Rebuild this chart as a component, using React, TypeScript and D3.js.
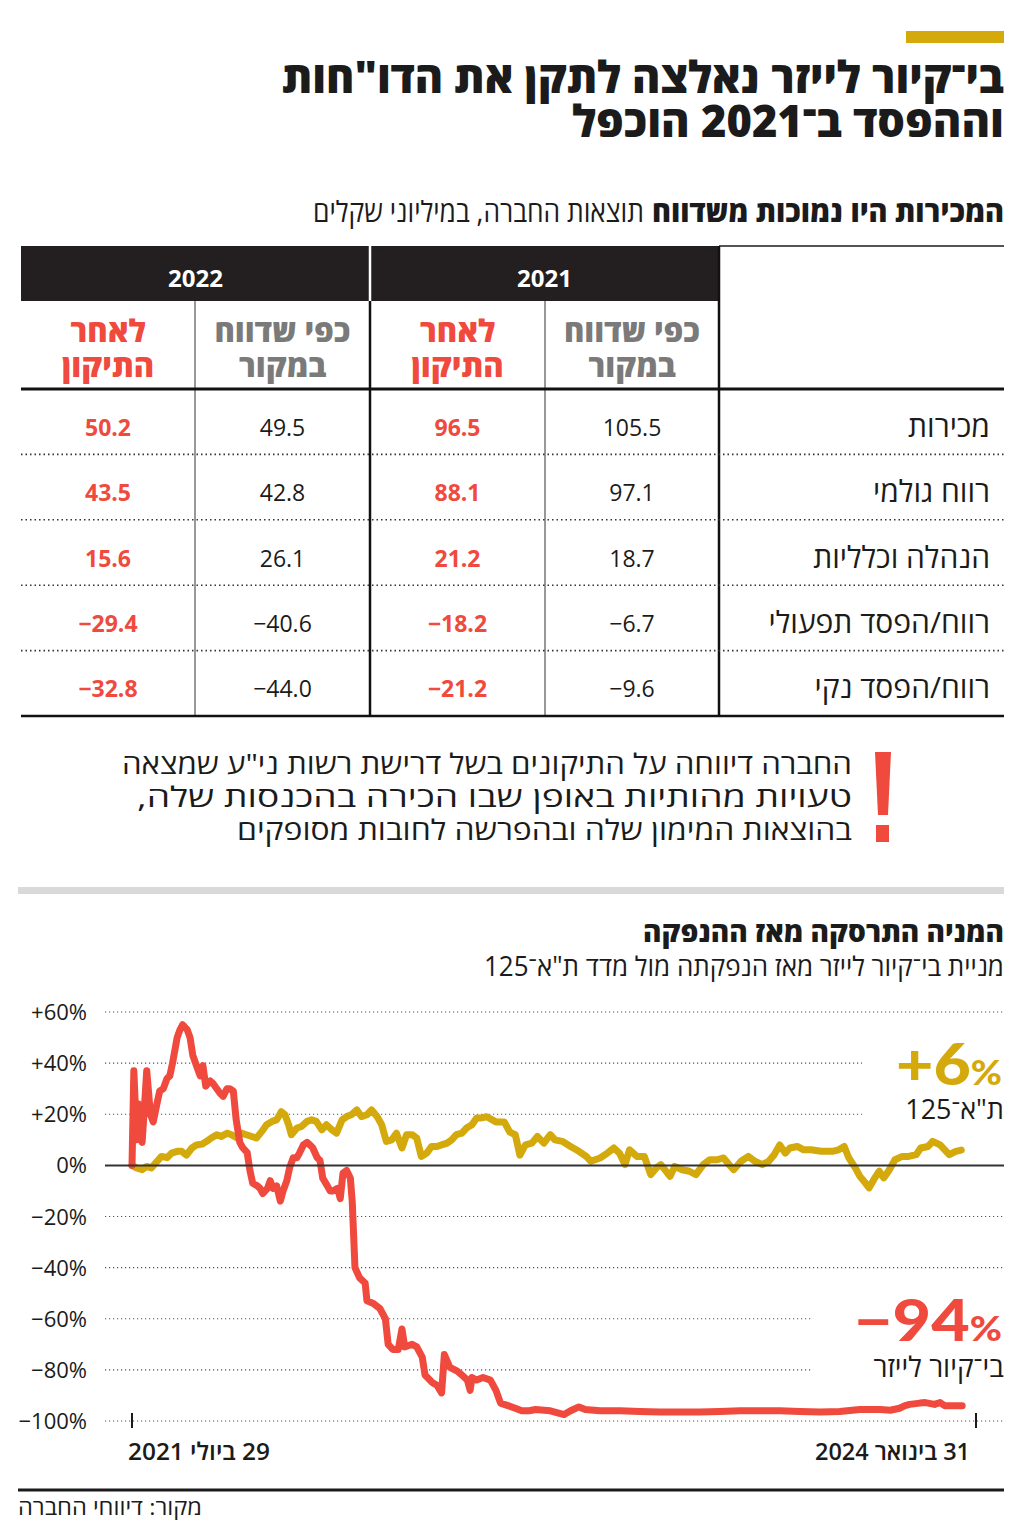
import React from "react";
import * as d3 from "d3";

// ---------- DATA ----------
const titleLines = ['בי־קיור לייזר נאלצה לתקן את הדו"חות', "וההפסד ב־2021 הוכפל"];
const tableTitleBold = "המכירות היו נמוכות משדווח";
const tableTitleRegular = "תוצאות החברה, במיליוני שקלים";
const years = ["2021", "2022"];
const reportedLabel = ["כפי שדווח", "במקור"];
const correctedLabel = ["לאחר", "התיקון"];
const rowLabels = ["מכירות", "רווח גולמי", "הנהלה וכלליות", "רווח/הפסד תפעולי", "רווח/הפסד נקי"];
const reported2021 = [105.5, 97.1, 18.7, -6.7, -9.6];
const corrected2021 = [96.5, 88.1, 21.2, -18.2, -21.2];
const reported2022 = [49.5, 42.8, 26.1, -40.6, -44.0];
const corrected2022 = [50.2, 43.5, 15.6, -29.4, -32.8];
const noteLines = [
  'החברה דיווחה על התיקונים בשל דרישת רשות ני"ע שמצאה',
  "טעויות מהותיות באופן שבו הכירה בהכנסות שלה,",
  "בהוצאות המימון שלה ובהפרשה לחובות מסופקים",
];
const chartTitle = "המניה התרסקה מאז ההנפקה";
const chartSubtitle = 'מניית בי־קיור לייזר מאז הנפקתה מול מדד ת"א־125';
const yTicks = [60, 40, 20, 0, -20, -40, -60, -80, -100];
const xTickLabels = ["29 ביולי 2021", "31 בינואר 2024"];
const startDate = new Date(2021, 6, 29);
const endDate = new Date(2024, 0, 31);
const ta125Name = 'ת"א־125';
const bcureName = "בי־קיור לייזר";
const ta125Final = "+6";
const bcureFinal = "−94";
const source = "מקור: דיווחי החברה";

// [days since IPO, % change]
const bcureSeries: [number, number][] = [
  [0, 0], [2, 37], [4, 20], [5, 10], [7, 24], [9, 12], [11, 9], [16, 37], [20, 20], [23, 17], [27, 24], [30, 29],
  [34, 30], [38, 34], [41, 35], [44, 40], [49, 50], [52, 53], [55, 55], [60, 53], [63, 50], [66, 43],
  [71, 38], [74, 35], [77, 39], [80, 31], [85, 33], [88, 32], [92, 30], [96, 28], [99, 27], [103, 30],
  [106, 30], [110, 29], [113, 18], [117, 9], [120, 7], [125, 5], [128, -2], [131, -7], [136, -8],
  [139, -9], [142, -11], [147, -9], [150, -6], [153, -9], [157, -8], [161, -14], [164, -10], [168, -6],
  [171, -1], [175, 3], [179, 3], [182, 5], [186, 8], [190, 9], [193, 8], [196, 7], [201, 3], [204, 2],
  [207, -5], [212, -8], [215, -10], [218, -10], [223, -9], [226, -13], [229, -3], [233, -2], [237, -5],
  [239, -14], [242, -40], [247, -44], [253, -46], [255, -53], [262, -54], [269, -56], [275, -60],
  [278, -70], [283, -72], [289, -72], [293, -64], [296, -71], [304, -70], [309, -71], [315, -75],
  [318, -82], [326, -85], [331, -86], [336, -89], [339, -74], [345, -79], [353, -80.5], [358, -82],
  [364, -84], [367, -88], [369, -83], [374, -84], [381, -83], [389, -84], [395, -88], [400, -93],
  [408, -94], [416, -95], [423, -96], [431, -96], [438, -95.5], [454, -96], [469, -97.5], [476, -96],
  [485, -94.5], [492, -95.5], [508, -96], [530, -96], [551, -96.3], [573, -96.5], [595, -96.5],
  [616, -96.5], [638, -96.3], [660, -96], [682, -96], [703, -96], [725, -96.3], [747, -96.5],
  [768, -96.3], [790, -95.5], [812, -95.5], [823, -95.8], [833, -95], [839, -94], [844, -93.5],
  [855, -93], [861, -92.8], [871, -93.5], [877, -92.8], [882, -94], [893, -94], [901, -94],
];

const ta125Series: [number, number][] = [
  [0, 0], [5, -1], [11, -1.7], [16, -0.4], [21, -1], [27, 1.5], [32, 3.5], [38, 3], [43, 4.8], [49, 5.5],
  [54, 5.5], [59, 4], [65, 6.8], [70, 8], [76, 8.3], [81, 9.4], [86, 10.7], [92, 12], [97, 11.3],
  [103, 12.6], [108, 12], [114, 10.7], [119, 12.6], [124, 12], [130, 11.3], [135, 10.7], [141, 13.3],
  [146, 15.9], [152, 17.2], [157, 17.8], [162, 21], [166, 19.8], [170, 15.9], [173, 12], [179, 14.6],
  [184, 15.2], [190, 17.2], [195, 17.8], [200, 17.2], [206, 13.9], [211, 15.9], [217, 13.9], [222, 12.6],
  [228, 17.8], [233, 19.1], [238, 19.8], [244, 21.7], [249, 19.1], [255, 19.8], [260, 21.7], [266, 19.1],
  [271, 15.9], [276, 9.4], [282, 10], [287, 12.6], [293, 6.8], [298, 12], [304, 12], [309, 10.7],
  [314, 3.5], [320, 4.8], [325, 7.4], [331, 7.4], [336, 8], [342, 8.7], [347, 10], [352, 12], [358, 12.6],
  [363, 14.6], [369, 15.9], [374, 18.5], [378, 18.5], [385, 19], [395, 17], [404, 17], [410, 13],
  [416, 12], [421, 4], [427, 8], [434, 8.7], [440, 11.3], [447, 8.7], [454, 12], [459, 10], [467, 9.4],
  [476, 7.4], [485, 5.5], [493, 3.5], [498, 1.6], [508, 2.9], [516, 4.8], [523, 6.8], [529, 4.8],
  [535, 0.3], [540, 6.1], [548, 3.5], [556, 3.5], [563, -3.6], [569, -1], [574, 0.3], [584, -4.3],
  [589, -0.4], [597, -1.7], [605, -2.3], [612, -3.6], [620, 0.3], [627, 2.2], [635, 2.2], [642, 2.9],
  [648, 0.3], [653, -1.7], [661, 1.6], [669, 3.5], [676, 1.6], [684, 0.3], [691, 1.6], [697, 4.2],
  [703, 8], [709, 4.8], [714, 6.8], [722, 7.4], [729, 6.1], [737, 6.1], [748, 5.5], [760, 5.5],
  [767, 6.1], [773, 7.4], [778, 2.9], [785, -1], [790, -4.3], [796, -6.9], [800, -8.8], [805, -5.6],
  [811, -2.3], [816, -4.9], [822, -1.7], [828, 2.2], [836, 3.5], [843, 3.5], [851, 4.2], [856, 6.8],
  [864, 7.4], [869, 9.4], [877, 8], [887, 4.2], [894, 5.5], [900, 6],
];

// ---------- STYLE ----------
const FONT = "'Open Sans','Liberation Sans','DejaVu Sans',sans-serif";
const RED = "#ef4a3d";
const GOLD = "#d4a90c";
const INK = "#1b1b1b";
const GRAY = "#7a7a7a";

const fmtNum = (v: number) => (v < 0 ? "−" + Math.abs(v).toFixed(1) : v.toFixed(1));
const fmtPct = (v: number) => (v > 0 ? `+${v}%` : v < 0 ? `−${Math.abs(v)}%` : "0%");

export default function App() {
  // table geometry
  const colEdges = [21, 195, 370, 545, 719, 1004];
  const rowScale = d3.scaleBand<number>().domain(d3.range(rowLabels.length)).range([389, 716]);
  const colCenters = [
    (colEdges[3] + colEdges[4]) / 2, // 2021 reported
    (colEdges[2] + colEdges[3]) / 2, // 2021 corrected
    (colEdges[1] + colEdges[2]) / 2, // 2022 reported
    (colEdges[0] + colEdges[1]) / 2, // 2022 corrected
  ];
  const columns = [reported2021, corrected2021, reported2022, corrected2022];

  // chart
  const x = d3.scaleTime().domain([startDate, endDate]).range([132, 976]);
  const y = d3.scaleLinear().domain([-100, 60]).range([1421, 1012]);
  const line = d3
    .line<[number, number]>()
    .x((d) => x(d3.timeDay.offset(startDate, d[0])))
    .y((d) => y(d[1]))
    .curve(d3.curveLinear);

  const gridEnd = (v: number) => (v === 40 || v === 20 ? 862 : v === -60 || v === -80 ? 812 : 1004);

  return (
    <svg
      width={1024}
      height={1531}
      viewBox="0 0 1024 1531"
      style={{ position: "absolute", left: 0, top: 0, background: "#fff" }}
      fontFamily={FONT}
    >
      <rect x={0} y={0} width={1024} height={1531} fill="#fff" />
      {/* header */}
      <rect x={906} y={31} width={98} height={12} fill={GOLD} />
      <text direction="rtl" textAnchor="start" fontSize={44} fontWeight={800} fill={INK}>
        <tspan x={1004} y={93} textLength={722} lengthAdjust="spacingAndGlyphs">{titleLines[0]}</tspan>
        <tspan x={1004} y={137} textLength={432} lengthAdjust="spacingAndGlyphs">{titleLines[1]}</tspan>
      </text>

      <text x={1004} y={222} direction="rtl" textAnchor="start" fontSize={29} fontWeight={800} fill={INK}
        textLength={352} lengthAdjust="spacingAndGlyphs">{tableTitleBold}</text>
      <text x={644} y={222} direction="rtl" textAnchor="start" fontSize={29} fontWeight={400} fill={INK}
        textLength={331} lengthAdjust="spacingAndGlyphs">{tableTitleRegular}</text>

      {/* table */}
      <line x1={719} x2={1004} y1={246} y2={246} stroke={INK} strokeWidth={1.5} />
      <rect x={21} y={246} width={698} height={55} fill="#231f20" />
      <line x1={370} x2={370} y1={246} y2={301} stroke="#fff" strokeWidth={2.5} />
      <text x={(colEdges[2] + colEdges[4]) / 2} y={287} textAnchor="middle" fontSize={24} fontWeight={700} fill="#fff">{years[0]}</text>
      <text x={(colEdges[0] + colEdges[2]) / 2} y={287} textAnchor="middle" fontSize={24} fontWeight={700} fill="#fff">{years[1]}</text>
      {[0, 2].map((i) => (
        <g key={"h" + i}>
          <text direction="rtl" textAnchor="middle" fontSize={31} fontWeight={800} fill={GRAY}>
            {reportedLabel.map((t, k) => (
              <tspan key={k} x={colCenters[i]} y={342 + k * 35}>{t}</tspan>
            ))}
          </text>
          <text direction="rtl" textAnchor="middle" fontSize={31} fontWeight={800} fill={RED}>
            {correctedLabel.map((t, k) => (
              <tspan key={k} x={colCenters[i + 1]} y={342 + k * 35}>{t}</tspan>
            ))}
          </text>
        </g>
      ))}
      {[195, 545].map((cx) => (
        <line key={cx} x1={cx} x2={cx} y1={301} y2={716} stroke="#333" strokeWidth={1} />
      ))}
      <line x1={370} x2={370} y1={301} y2={716} stroke="#111" strokeWidth={2.5} />
      <line x1={719} x2={719} y1={246} y2={716} stroke="#111" strokeWidth={2.5} />
      <line x1={21} x2={1004} y1={389} y2={389} stroke="#111" strokeWidth={3} />
      <line x1={21} x2={1004} y1={716} y2={716} stroke="#111" strokeWidth={2.5} />
      {rowLabels.map((lab, r) => {
        const top = rowScale(r)!;
        const bw = rowScale.bandwidth();
        return (
          <g key={lab}>
            {r > 0 && (
              <line x1={21} x2={1004} y1={top} y2={top} stroke="#333" strokeWidth={1.6} strokeDasharray="1.5 3" />
            )}
            <text x={990} y={top + bw / 2 + 15} direction="rtl" textAnchor="start" fontSize={30} fill={INK}>{lab}</text>
            {columns.map((col, c) => (
              <text key={c} x={colCenters[c]} y={top + bw / 2 + 14} textAnchor="middle" fontSize={23}
                fontWeight={c % 2 === 1 ? 700 : 400} fill={c % 2 === 1 ? RED : INK}>{fmtNum(col[r])}</text>
            ))}
          </g>
        );
      })}

      {/* note */}
      <polygon points="875,752 891,752 888,815 878,815" fill={RED} />
      <rect x={876} y={825} width={13} height={17} fill={RED} />
      <text direction="rtl" textAnchor="start" fontSize={28} fill={INK}>
        {noteLines.map((t, i) => (
          <tspan key={i} x={852} y={774 + i * 33} textLength={[730, 715, 615][i]} lengthAdjust="spacingAndGlyphs">{t}</tspan>
        ))}
      </text>

      <rect x={18} y={887} width={986} height={7} fill="#d9d9d9" />

      {/* chart header */}
      <text x={1004} y={942} direction="rtl" textAnchor="start" fontSize={28} fontWeight={800} fill={INK}>{chartTitle}</text>
      <text x={1004} y={976} direction="rtl" textAnchor="start" fontSize={27} fill={INK}
        textLength={520} lengthAdjust="spacingAndGlyphs">{chartSubtitle}</text>

      {/* grid */}
      {yTicks.map((v) => (
        <g key={v}>
          {v !== 0 && (
            <line x1={105} x2={gridEnd(v)} y1={y(v)} y2={y(v)} stroke="#555" strokeWidth={1.2} strokeDasharray="1.2 2.8" />
          )}
          <text x={87} y={y(v) + 8} textAnchor="end" fontSize={22} fill={INK}>{fmtPct(v)}</text>
        </g>
      ))}

      {/* lines */}
      <path d={line(ta125Series) || ""} fill="none" stroke={GOLD} strokeWidth={7} strokeLinejoin="round" strokeLinecap="round" />
      <path d={line(bcureSeries) || ""} fill="none" stroke={RED} strokeWidth={7} strokeLinejoin="round" strokeLinecap="round" />
      <line x1={105} x2={1004} y1={y(0)} y2={y(0)} stroke="#333" strokeWidth={2} />

      {/* x axis */}
      {x.domain().map((d, i) => (
        <g key={i}>
          <line x1={x(d)} x2={x(d)} y1={1413} y2={1428} stroke={INK} strokeWidth={2} />
        </g>
      ))}
      <text x={128} y={1460} direction="rtl" textAnchor="end" fontSize={24} fontWeight={600} fill={INK}
        textLength={142} lengthAdjust="spacingAndGlyphs">{xTickLabels[0]}</text>
      <text x={970} y={1460} direction="rtl" textAnchor="start" fontSize={24} fontWeight={600} fill={INK}
        textLength={155} lengthAdjust="spacingAndGlyphs">{xTickLabels[1]}</text>

      {/* end labels */}
      <text x={1002} y={1085} textAnchor="end" fill={GOLD} fontFamily="Lato, 'Open Sans', sans-serif" fontWeight={900}
        textLength={106} lengthAdjust="spacingAndGlyphs">
        <tspan fontSize={58}>{ta125Final}</tspan>
        <tspan fontSize={34}>%</tspan>
      </text>
      <text x={1004} y={1119} direction="rtl" textAnchor="start" fontSize={27} fill={INK}>{ta125Name}</text>
      <text x={1002} y={1341} textAnchor="end" fill={RED} fontFamily="Lato, 'Open Sans', sans-serif" fontWeight={900}
        textLength={148} lengthAdjust="spacingAndGlyphs">
        <tspan fontSize={58}>{bcureFinal}</tspan>
        <tspan fontSize={34}>%</tspan>
      </text>
      <text x={1004} y={1377} direction="rtl" textAnchor="start" fontSize={28} fill={INK}>{bcureName}</text>

      {/* footer */}
      <line x1={18} x2={1004} y1={1490} y2={1490} stroke={INK} strokeWidth={3} />
      <text x={18} y={1515} direction="rtl" textAnchor="end" fontSize={22} fill={INK}
        textLength={184} lengthAdjust="spacingAndGlyphs">{source}</text>
    </svg>
  );
}
